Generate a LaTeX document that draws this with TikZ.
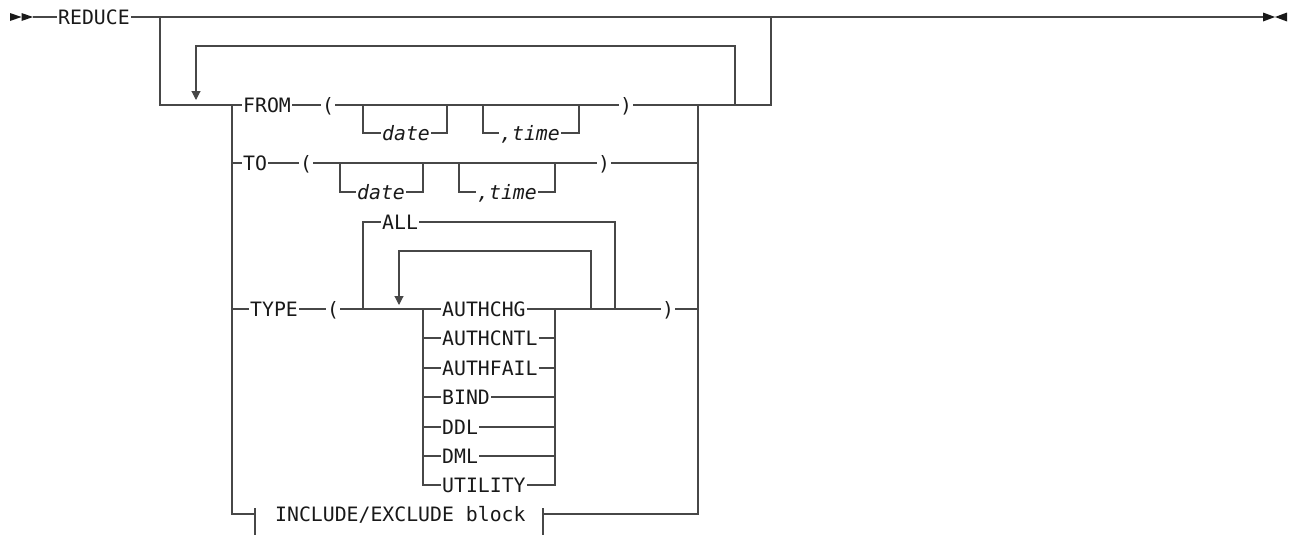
\documentclass[tikz,border=0pt]{standalone}
\usepackage{fontspec}
\setmonofont{DejaVu Sans Mono}
\usetikzlibrary{arrows.meta}

\begin{document}
\begin{tikzpicture}[
    x=1pt, y=-1pt,
    kw/.style={
      anchor=west,
      inner xsep=1pt,
      inner ysep=0pt,
      text height=14.5pt,
      text depth=0pt,
      text=black!90,
      font=\ttfamily\fontsize{19.8}{22}\selectfont,
    },
    var/.style={kw, font=\ttfamily\itshape\fontsize{19.8}{22}\selectfont},
    rail/.style={line width=1.1pt, draw=black!72},
    back/.style={rail, -{Triangle[length=9pt,width=9pt]}},
    endtip/.style={fill=black!90},
  ]
    \fill[white] (0,0) rectangle (1294,538);
    \useasboundingbox (0,0) rectangle (1294,538);

    % main line
    \fill[endtip] (10,13) -- (21.5,17) -- (10,21) -- cycle;
    \fill[endtip] (21.5,13) -- (33,17) -- (21.5,21) -- cycle;
    \fill[endtip] (1263,12.5) -- (1275,17) -- (1263,21.5) -- cycle;
    \fill[endtip] (1287,12.5) -- (1275,17) -- (1287,21.5) -- cycle;
    \coordinate (start) at (33,17);
    \coordinate (stop) at (1263,17);
    \node[kw] (reduce) at (57,17) {REDUCE};
    \coordinate (byin) at (160,17);
    \coordinate (byout) at (771,17);
    \coordinate (optin) at (232,105);
    \coordinate (optout) at (698,105);
    \coordinate (rep) at (735,105);
    \coordinate (reptop) at (735,46);
    \coordinate (repin) at (196,100);
    \draw[rail] (start) -- (reduce);
    \draw[rail] (reduce) -- (stop);
    \draw[rail] (byin) |- (optin);
    \draw[rail] (optout) -| (byout);
    \draw[back] (rep) -- (reptop) -| (repin);

    % FROM
    \node[kw] (from) at (242,105) {FROM};
    \node[kw] (fopen) at (321,105) {(};
    \node[kw] (fclose) at (619,105) {)};
    \node[var] (fdate) at (381,133) {date};
    \node[var] (ftime) at (499,133) {,time};
    \coordinate (fd1) at (363,105);
    \coordinate (fd2) at (447,105);
    \coordinate (ft1) at (483,105);
    \coordinate (ft2) at (579,105);
    \draw[rail] (optin) -- (from);
    \draw[rail] (from) -- (fopen);
    \draw[rail] (fopen) -- (fclose);
    \draw[rail] (fclose) -- (optout);
    \draw[rail] (fd1) |- (fdate);
    \draw[rail] (fdate) -| (fd2);
    \draw[rail] (ft1) |- (ftime);
    \draw[rail] (ftime) -| (ft2);

    % TO
    \node[kw] (to) at (242,163) {TO};
    \node[kw] (topen) at (299,163) {(};
    \node[kw] (tclose) at (597,163) {)};
    \node[var] (tdate) at (356,192) {date};
    \node[var] (ttime) at (476,192) {,time};
    \coordinate (td1) at (340,163);
    \coordinate (td2) at (423,163);
    \coordinate (tt1) at (459,163);
    \coordinate (tt2) at (555,163);
    \draw[rail] (optin |- to) -- (to);
    \draw[rail] (to) -- (topen);
    \draw[rail] (topen) -- (tclose);
    \draw[rail] (tclose) -- (optout |- tclose);
    \draw[rail] (td1) |- (tdate);
    \draw[rail] (tdate) -| (td2);
    \draw[rail] (tt1) |- (ttime);
    \draw[rail] (ttime) -| (tt2);

    % TYPE
    \node[kw] (type) at (249,309) {TYPE};
    \node[kw] (yopen) at (326,309) {(};
    \node[kw] (yclose) at (661,309) {)};
    \node[kw] (all) at (381,222) {ALL};
    \coordinate (all1) at (363,309);
    \coordinate (all2) at (615,309);
    \coordinate (loopout) at (591,309);
    \coordinate (looptop) at (591,251);
    \coordinate (loopin) at (399,305);
    \coordinate (chl) at (423,309);
    \coordinate (chr) at (555,309);
    \node[kw] (authchg) at (441,309) {AUTHCHG};
    \node[kw] (authcntl) at (441,338) {AUTHCNTL};
    \node[kw] (authfail) at (441,368) {AUTHFAIL};
    \node[kw] (bind) at (441,397) {BIND};
    \node[kw] (ddl) at (441,427) {DDL};
    \node[kw] (dml) at (441,456) {DML};
    \node[kw] (utility) at (441,485) {UTILITY};
    \draw[rail] (optin |- type) -- (type);
    \draw[rail] (type) -- (yopen);
    \draw[rail] (yopen) -- (authchg);
    \draw[rail] (authchg) -- (yclose);
    \draw[rail] (yclose) -- (optout |- yclose);
    \draw[rail] (all1) |- (all);
    \draw[rail] (all) -| (all2);
    \draw[back] (loopout) -- (looptop) -| (loopin);
    \draw[rail] (chl) |- (utility);
    \draw[rail] (utility) -| (chr);
    \draw[rail] (chl |- authcntl) -- (authcntl) -- (chr |- authcntl);
    \draw[rail] (chl |- authfail) -- (authfail) -- (chr |- authfail);
    \draw[rail] (chl |- bind) -- (bind) -- (chr |- bind);
    \draw[rail] (chl |- ddl) -- (ddl) -- (chr |- ddl);
    \draw[rail] (chl |- dml) -- (dml) -- (chr |- dml);

    % INCLUDE/EXCLUDE
    \node[kw] (incl) at (274,514) {INCLUDE/EXCLUDE block};
    \coordinate (tickl) at (255,514);
    \coordinate (tickr) at (543,514);
    \draw[rail] (optin) |- (tickl);
    \draw[rail] (optout) |- (tickr);
    \draw[rail] ([yshift=6pt]tickl) -- ([yshift=-21pt]tickl);
    \draw[rail] ([yshift=6pt]tickr) -- ([yshift=-21pt]tickr);
  \end{tikzpicture}
\end{document}
